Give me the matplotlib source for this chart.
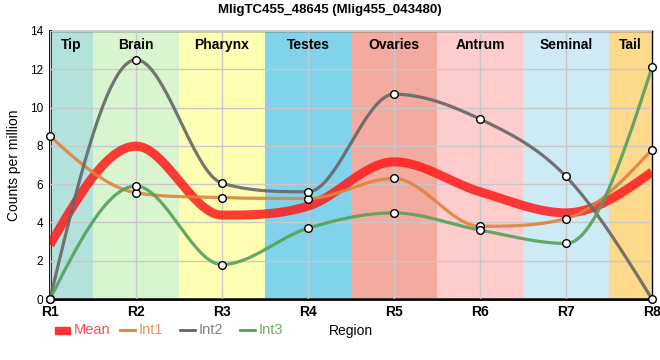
import matplotlib.pyplot as plt
import numpy as np
from matplotlib.lines import Line2D
from matplotlib.patches import Rectangle

plt.rcParams['font.family'] = ['Liberation Sans', 'DejaVu Sans']

regions = ['R1', 'R2', 'R3', 'R4', 'R5', 'R6', 'R7', 'R8']
tissues = ['Tip', 'Brain', 'Pharynx', 'Testes', 'Ovaries', 'Antrum', 'Seminal', 'Tail']
tissue_colors = ['#b3e2dd', '#d9f5d0', '#ffffb3', '#80d3eb', '#f4ab9f', '#fdcccc', '#ceeaf4', '#fdd98b']

int1 = [8.5, 5.55, 5.3, 5.25, 6.3, 3.8, 4.2, 7.8]
int2 = [0.0, 12.5, 6.05, 5.6, 10.7, 9.4, 6.4, 0.0]
int3 = [0.0, 5.9, 1.8, 3.7, 4.5, 3.6, 2.9, 12.1]
mean = list(np.mean([int1, int2, int3], axis=0))


def monotone(x, y, n=40):
    # monotone cubic (Fritsch-Carlson), like d3.curveMonotoneX
    x = np.asarray(x, float); y = np.asarray(y, float)
    h = np.diff(x); d = np.diff(y) / h
    m = np.zeros_like(y)
    for i in range(1, len(y) - 1):
        if d[i-1] * d[i] > 0:
            m[i] = (h[i-1]*d[i] + h[i]*d[i-1]) / (h[i-1] + h[i])
            lim = 3 * min(abs(d[i-1]), abs(d[i]))
            if abs(m[i]) > lim:
                m[i] = np.sign(m[i]) * lim
    m[0] = (3 * d[0] - m[1]) / 2
    m[-1] = (3 * d[-1] - m[-2]) / 2
    xs, ys = [], []
    for i in range(len(h)):
        t = np.linspace(0, 1, n)
        h00 = 2*t**3 - 3*t**2 + 1; h10 = t**3 - 2*t**2 + t
        h01 = -2*t**3 + 3*t**2; h11 = t**3 - t**2
        xs.append(x[i] + t*h[i])
        ys.append(h00*y[i] + h10*h[i]*m[i] + h01*y[i+1] + h11*h[i]*m[i+1])
    return np.concatenate(xs), np.concatenate(ys)


fig = plt.figure(figsize=(6.6, 3.6), dpi=100)
ax = fig.add_axes([50/660, 61/360, 602/660, 268/360])
xpos = np.arange(len(regions))

for i, (t, c) in enumerate(zip(tissues, tissue_colors)):
    lo, hi = max(i - 0.5, 0), min(i + 0.5, len(regions) - 1)
    ax.axvspan(lo, hi, color=c, zorder=0, lw=0)
    ax.text((lo + hi) / 2, 13.65, t, ha='center', va='top', fontsize=10, fontweight='bold')

ax.grid(True, color='#c8c8c8', lw=1, zorder=1)
ax.set_axisbelow(False)

sx, sy = monotone(xpos, mean)
ax.plot(sx, sy, color='#ff1a1a', lw=6.5, alpha=0.85, zorder=3, solid_capstyle='butt')
for vals, c in [(int1, '#e0823d'), (int2, '#666666'), (int3, '#55a05a')]:
    sx, sy = monotone(xpos, vals)
    ax.plot(sx, sy, color=c, lw=2.3, alpha=0.9, zorder=4)
for vals in [int1, int2, int3]:
    ax.plot(xpos, vals, 'o', ms=5.5, mfc='white', mec='black', mew=1, zorder=5, clip_on=False)

ax.set_xlim(0, 7)
ax.set_ylim(0, 14)
ax.set_xticks(xpos)
ax.set_xticklabels(regions, fontsize=10, fontweight='bold')
ax.set_yticks(range(0, 15, 2))
ax.tick_params(axis='y', labelsize=8.5, length=0, pad=5)
ax.tick_params(axis='x', length=0, pad=4)
for s in ['left', 'bottom']:
    ax.spines[s].set_linewidth(2)
for s in ['top', 'right']:
    ax.spines[s].set_linewidth(1)
ax.set_ylabel('Counts per million', fontsize=10, labelpad=6)

fig.text(330/660, 1 - 10/360, 'MligTC455_48645 (Mlig455_043480)', ha='center', va='center',
         fontsize=9.5, fontweight='bold')
fig.text(351/660, 1 - 331/360, 'Region', ha='center', va='center', fontsize=10)

# legend drawn by hand
ly = 1 - 330/360
fig.add_artist(Rectangle((55/660, ly - 3.5/360), 15/660, 7/360, color='#ff3333',
                         transform=fig.transFigure))
fig.text(74/660, ly, 'Mean', ha='left', va='center', fontsize=10.5, color='#ff4d4d')
for x0, lab, c, tc in [(120, 'Int1', '#e0823d', '#e8955a'), (180, 'Int2', '#666666', '#808080'),
                       (240, 'Int3', '#55a05a', '#6aab6e')]:
    fig.add_artist(Line2D([x0/660, (x0 + 15)/660], [ly, ly], color=c, lw=2,
                          transform=fig.transFigure))
    fig.text((x0 + 19)/660, ly, lab, ha='left', va='center', fontsize=10.5, color=tc)

fig.savefig('out.png', dpi=100)
